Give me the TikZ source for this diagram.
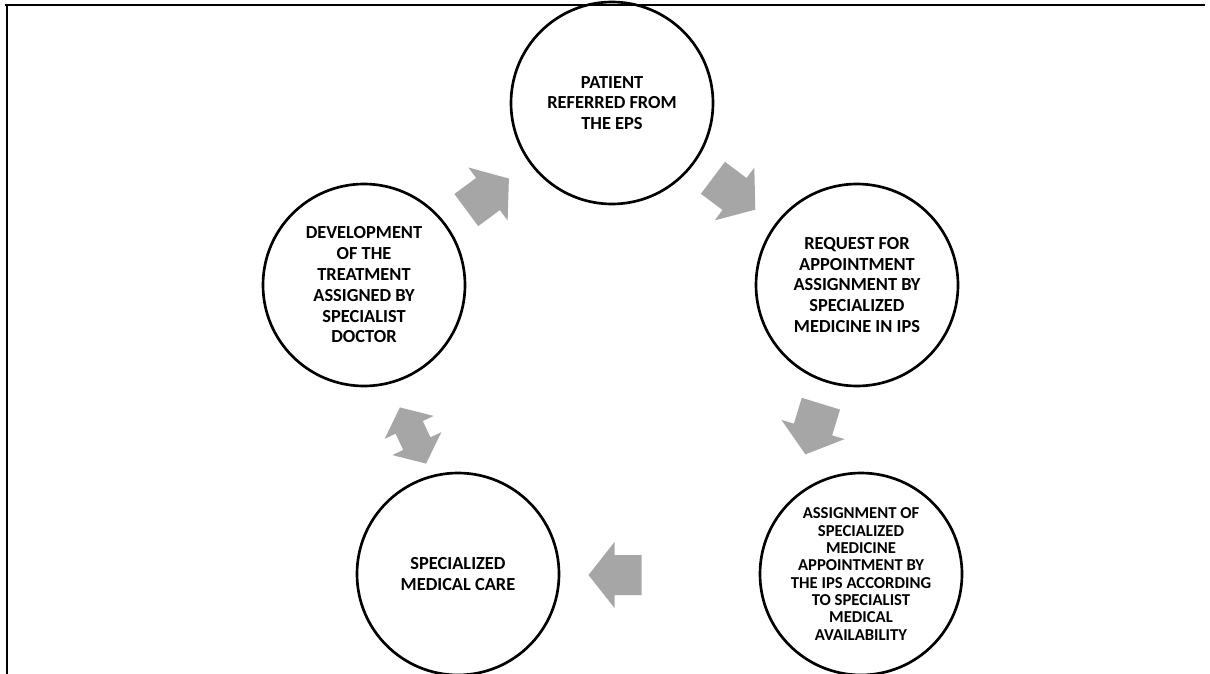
\documentclass[tikz,border=0pt]{standalone}
\usepackage{fontspec}
\setmainfont{Carlito}
\usepackage{xcolor}
\definecolor{ink}{RGB}{0,0,0}
\definecolor{arrowgray}{RGB}{166,166,166}
\usepackage{tikz}
\usetikzlibrary{positioning,calc}

\begin{document}
\begin{tikzpicture}[
  x=0.75pt, y=-0.75pt,
  stage/.style={circle,draw=ink,line width=2pt,fill=white,
                minimum size=151.5pt,inner sep=0pt,align=center,
                font=\fontsize{13.8}{15.6}\selectfont\bfseries},
  stagesmall/.style={stage,font=\fontsize{12.5}{13}\selectfont\bfseries},
  frame/.style={draw=ink,line cap=rect},
  cyclearrow/.pic={
    \fill[arrowgray] (-27,-20) -- (0,-20) -- (0,-33) -- (26,0)
      -- (0,33) -- (0,20) -- (-27,20) -- cycle;},
  twowayarrow/.pic={
    \fill[arrowgray] (-31,0) -- (-9,-27) -- (-9,-15) -- (9,-15) -- (9,-27)
      -- (31,0) -- (9,27) -- (9,15) -- (-9,15) -- (-9,27) -- cycle;},
]
  \useasboundingbox (0,0) rectangle (1210,674);
  \fill[white] (0,0) rectangle (1210,674);

  % the five stages
  \node[stage](T) at (612,103) {PATIENT\\REFERRED FROM\\THE EPS};
  \node[stage](R) at (857,285)
    {REQUEST FOR\\APPOINTMENT\\ASSIGNMENT BY\\SPECIALIZED\\MEDICINE IN IPS};
  \node[stagesmall](BR) at (861,574)
    {ASSIGNMENT OF\\SPECIALIZED\\MEDICINE\\APPOINTMENT BY\\THE IPS ACCORDING\\TO SPECIALIST\\MEDICAL\\AVAILABILITY};
  \node[stage](BL) at (458,574) {SPECIALIZED\\MEDICAL CARE};
  \node[stage](L) at (364,285)
    {DEVELOPMENT\\OF THE\\TREATMENT\\ASSIGNED BY\\SPECIALIST\\DOCTOR};

  % block arrows between stages
  \pic[rotate=36.5] at ($(L)!0.5!(T)$) {cyclearrow};
  \pic[rotate=-36.9] at ($(T)!0.5!(R)$) {cyclearrow};
  \pic[rotate=-107] at ($($(R)!0.5!(BR)$)+(-46,0)$) {cyclearrow};
  \pic[rotate=180] at ($($(BL)!0.5!(BR)$)+(-45,1)$) {cyclearrow};
  \pic[rotate=-65] at ($($(L)!0.5!(BL)$)+(2,6)$) {twowayarrow};

  % frame
  \draw[frame,line width=1.2pt] (6,5) -- (1204,5);
  \draw[frame,line width=2pt] (7,5) -- (7,674);
\end{tikzpicture}
\end{document}
